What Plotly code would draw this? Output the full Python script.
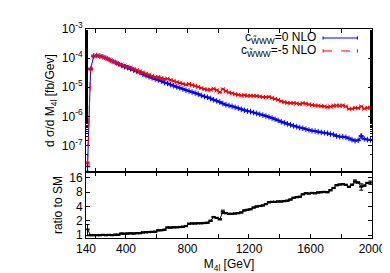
import plotly.graph_objects as go
from plotly.subplots import make_subplots

# bin centres (GeV)
m4l = [150, 170, 190, 210, 230, 250, 270, 290, 310, 330, 350, 370, 390, 410, 430, 450, 470, 490,
       510, 530, 550, 570, 590, 610, 630, 650, 670, 690, 710, 730, 750, 770, 790, 810, 830, 850,
       870, 890, 910, 930, 950, 970, 990, 1010, 1030, 1050, 1070, 1090, 1110, 1130, 1150, 1170,
       1190, 1210, 1230, 1250, 1270, 1290, 1310, 1330, 1350, 1370, 1390, 1410, 1430, 1450, 1470,
       1490, 1510, 1530, 1550, 1570, 1590, 1610, 1630, 1650, 1670, 1690, 1710, 1730, 1750, 1770,
       1790, 1810, 1830, 1850, 1870, 1890, 1910, 1930, 1950, 1970, 1990]

# c_WWW = 0 NLO  [fb/GeV]
sm_nlo = [1.9e-8, 4.2e-5, 1.17e-4, 1.23e-4, 1.17e-4, 1.10e-4, 1.00e-4, 8.9e-5, 7.9e-5, 7.1e-5,
          6.3e-5, 5.6e-5, 5.1e-5, 4.7e-5, 4.3e-5, 3.9e-5, 3.5e-5, 3.2e-5, 2.8e-5, 2.5e-5, 2.3e-5,
          2.1e-5, 1.9e-5, 1.78e-5, 1.62e-5, 1.45e-5, 1.35e-5, 1.23e-5, 1.12e-5, 1.02e-5, 9.5e-6,
          8.7e-6, 7.9e-6, 7.4e-6, 6.8e-6, 6.3e-6, 5.8e-6, 5.2e-6, 4.8e-6, 4.5e-6, 4.1e-6, 3.7e-6,
          3.4e-6, 3.1e-6, 2.75e-6, 2.5e-6, 2.35e-6, 2.2e-6, 2.04e-6, 1.9e-6, 1.74e-6, 1.62e-6,
          1.51e-6, 1.45e-6, 1.35e-6, 1.26e-6, 1.17e-6, 1.10e-6, 1.02e-6, 9.5e-7, 8.7e-7, 7.9e-7,
          7.2e-7, 6.5e-7, 6.0e-7, 5.5e-7, 5.1e-7, 4.7e-7, 4.4e-7, 4.1e-7, 3.9e-7, 3.6e-7, 3.4e-7,
          3.2e-7, 3.1e-7, 2.95e-7, 2.8e-7, 2.7e-7, 2.6e-7, 2.45e-7, 2.35e-7, 2.1e-7, 2.0e-7,
          2.0e-7, 1.9e-7, 1.74e-7, 1.58e-7, 1.45e-7, 1.5e-7, 2.1e-7, 1.66e-7, 1.58e-7, 1.55e-7]

# c_WWW = -5 NLO  [fb/GeV]
bsm_nlo = [2.5e-8, 4.2e-5, 1.17e-4, 1.23e-4, 1.17e-4, 1.11e-4, 1.00e-4, 9.0e-5, 7.9e-5, 7.2e-5,
           6.4e-5, 6.0e-5, 5.5e-5, 5.1e-5, 4.7e-5, 4.2e-5, 3.85e-5, 3.5e-5, 3.2e-5, 2.9e-5, 2.7e-5,
           2.45e-5, 2.25e-5, 2.24e-5, 2.06e-5, 1.89e-5, 1.96e-5, 1.77e-5, 1.64e-5, 1.49e-5, 1.41e-5,
           1.31e-5, 1.22e-5, 1.29e-5, 1.20e-5, 1.11e-5, 1.03e-5, 9.3e-6, 8.6e-6, 8.2e-6, 8.2e-6,
           8.9e-6, 7.8e-6, 6.7e-6, 8.5e-6, 7.3e-6, 6.6e-6, 6.2e-6, 5.8e-6, 5.5e-6, 5.2e-6, 5.3e-6,
           5.1e-6, 5.1e-6, 5.1e-6, 5.0e-6, 4.8e-6, 4.6e-6, 4.6e-6, 4.7e-6, 4.35e-6, 3.95e-6,
           3.7e-6, 3.3e-6, 3.1e-6, 2.9e-6, 2.85e-6, 2.87e-6, 2.77e-6, 2.62e-6, 2.8e-6, 2.74e-6,
           2.55e-6, 2.46e-6, 2.36e-6, 2.33e-6, 2.24e-6, 2.19e-6, 2.08e-6, 2.16e-6, 2.3e-6, 2.35e-6,
           2.32e-6, 2.36e-6, 2.17e-6, 1.81e-6, 1.82e-6, 1.96e-6, 1.92e-6, 2.18e-6, 1.83e-6,
           1.98e-6, 1.97e-6]

# ratio to SM
ratio = [1.32, 1.0, 1.0, 1.0, 1.0, 1.01, 1.0, 1.01, 1.0, 1.02, 1.02, 1.08, 1.07, 1.08, 1.09, 1.08,
         1.1, 1.1, 1.14, 1.15, 1.16, 1.17, 1.18, 1.26, 1.27, 1.3, 1.45, 1.44, 1.46, 1.46, 1.48, 1.5,
         1.55, 1.74, 1.76, 1.76, 1.78, 1.78, 1.8, 1.82, 2.0, 2.4, 2.3, 2.15, 3.1, 2.9, 2.8, 2.8,
         2.85, 2.9, 3.0, 3.3, 3.4, 3.5, 3.8, 4.0, 4.1, 4.2, 4.5, 4.9, 5.0, 5.0, 5.1, 5.1, 5.2, 5.3,
         5.6, 6.1, 6.3, 6.4, 7.2, 7.6, 7.5, 7.7, 7.6, 7.9, 8.0, 8.1, 8.0, 8.8, 9.8, 11.2, 11.6,
         11.8, 11.4, 10.4, 11.5, 13.5, 12.8, 10.4, 11.0, 12.5, 12.7]

# bins with visibly larger uncertainties (absolute, in ratio units / relative for xsec)
ratio_big_err = {150: 0.35, 1030: 0.25, 1890: 1.0, 1930: 1.6, 1990: 1.0}
sm_big_err_rel = {150: 0.3, 1930: 0.15}

bin_half = 10

ratio_err = [ratio_big_err.get(m, 0.03 * r) for m, r in zip(m4l, ratio)]
sm_err = [v * sm_big_err_rel.get(m, 0.03) for m, v in zip(m4l, sm_nlo)]
bsm_err = [v * 0.03 for v in bsm_nlo]

BLUE = "#0000ff"
RED = "#ff0000"
FONT = "Liberation Sans, Arial, sans-serif"

fig = make_subplots(rows=2, cols=1, shared_xaxes=True, vertical_spacing=0,
                    row_heights=[0.685, 0.315])

fig.add_trace(go.Scatter(
    x=m4l, y=sm_nlo, mode="lines+markers", name="c=0 NLO",
    line=dict(color=BLUE, width=1),
    marker=dict(symbol="cross-thin", size=4, color=BLUE, line=dict(color=BLUE, width=1)),
    error_x=dict(type="constant", value=bin_half, color=BLUE, thickness=1, width=1),
    error_y=dict(type="data", array=sm_err, color=BLUE, thickness=1, width=1),
    showlegend=False), row=1, col=1)

fig.add_trace(go.Scatter(
    x=m4l, y=bsm_nlo, mode="lines+markers", name="c=-5 NLO",
    line=dict(color=RED, width=1, dash="dash"),
    marker=dict(symbol="x-thin", size=4, color=RED, line=dict(color=RED, width=1)),
    error_x=dict(type="constant", value=bin_half, color=RED, thickness=1, width=1),
    error_y=dict(type="data", array=bsm_err, color=RED, thickness=1, width=1),
    showlegend=False), row=1, col=1)

fig.add_trace(go.Scatter(
    x=m4l, y=ratio, mode="lines+markers",
    line=dict(color="black", width=1),
    marker=dict(symbol="circle", size=2, color="black"),
    error_x=dict(type="constant", value=bin_half, color="black", thickness=1, width=1),
    error_y=dict(type="data", array=ratio_err, color="black", thickness=1, width=2),
    showlegend=False), row=2, col=1)

x_ticks = [140, 200, 400, 600, 800, 1000, 1200, 1400, 1600, 1800, 2000]
x_labels = ["140", "", "400", "", "800", "", "1200", "", "1600", "", "2000"]

axis_common = dict(showline=True, linecolor="black", linewidth=1, mirror="ticks",
                   ticks="inside", ticklen=4, tickcolor="black", showgrid=False,
                   zeroline=False, tickfont=dict(family=FONT, size=12, color="black"))

fig.update_xaxes(range=[140, 2000], tickvals=x_ticks, ticktext=x_labels, **axis_common)
fig.update_xaxes(showticklabels=False, row=1, col=1)
fig.update_xaxes(title=dict(text="M<sub>4l</sub> [GeV]", font=dict(family=FONT, size=12),
                            standoff=4), row=2, col=1)

y_top_ticks = [1e-7, 1e-6, 1e-5, 1e-4, 1e-3]
y_top_labels = ["10<sup>-7</sup>", "10<sup>-6</sup>", "10<sup>-5</sup>", "10<sup>-4</sup>",
                "10<sup>-3</sup>"]
fig.update_yaxes(type="log", range=[-7.92, -3], tickvals=y_top_ticks, ticktext=y_top_labels,
                 minor=dict(ticks="inside", ticklen=2, tickcolor="black", showgrid=False),
                 title=dict(text="d σ/d M<sub>4l</sub> [fb/Gev]",
                            font=dict(family=FONT, size=12), standoff=4),
                 row=1, col=1, **axis_common)

r_ticks = [1, 2, 4, 8, 16]
fig.update_yaxes(type="log", range=[-0.0605, 1.324], tickvals=r_ticks,
                 ticktext=[str(t) for t in r_ticks],
                 title=dict(text="ratio to SM", font=dict(family=FONT, size=12), standoff=4),
                 row=2, col=1, **axis_common)

# gnuplot-style legend: text right-aligned, sample to the right
legend_rows = [
    ("c<sub>W̃WW</sub>=0 NLO", BLUE, "solid", 0.957),
    ("c<sub>W̃WW</sub>=-5 NLO", RED, "dash", 0.895),
]
for text, col, dash, yy in legend_rows:
    fig.add_annotation(xref="paper", yref="paper", x=0.812, y=yy, text=text, showarrow=False,
                       xanchor="right", yanchor="middle",
                       font=dict(family=FONT, size=12, color="black"))
    fig.add_shape(type="line", xref="paper", yref="paper", x0=0.829, x1=0.949, y0=yy, y1=yy,
                  line=dict(color=col, width=1, dash=dash))
    for xe in (0.829, 0.949):
        fig.add_shape(type="line", xref="paper", yref="paper", x0=xe, x1=xe,
                      y0=yy - 0.008, y1=yy + 0.008, line=dict(color=col, width=1))

fig.update_layout(width=390, height=273, margin=dict(l=78, r=20, t=13, b=41),
                  plot_bgcolor="white", paper_bgcolor="white",
                  font=dict(family=FONT, size=12, color="black"))

fig.write_html("out.html")
